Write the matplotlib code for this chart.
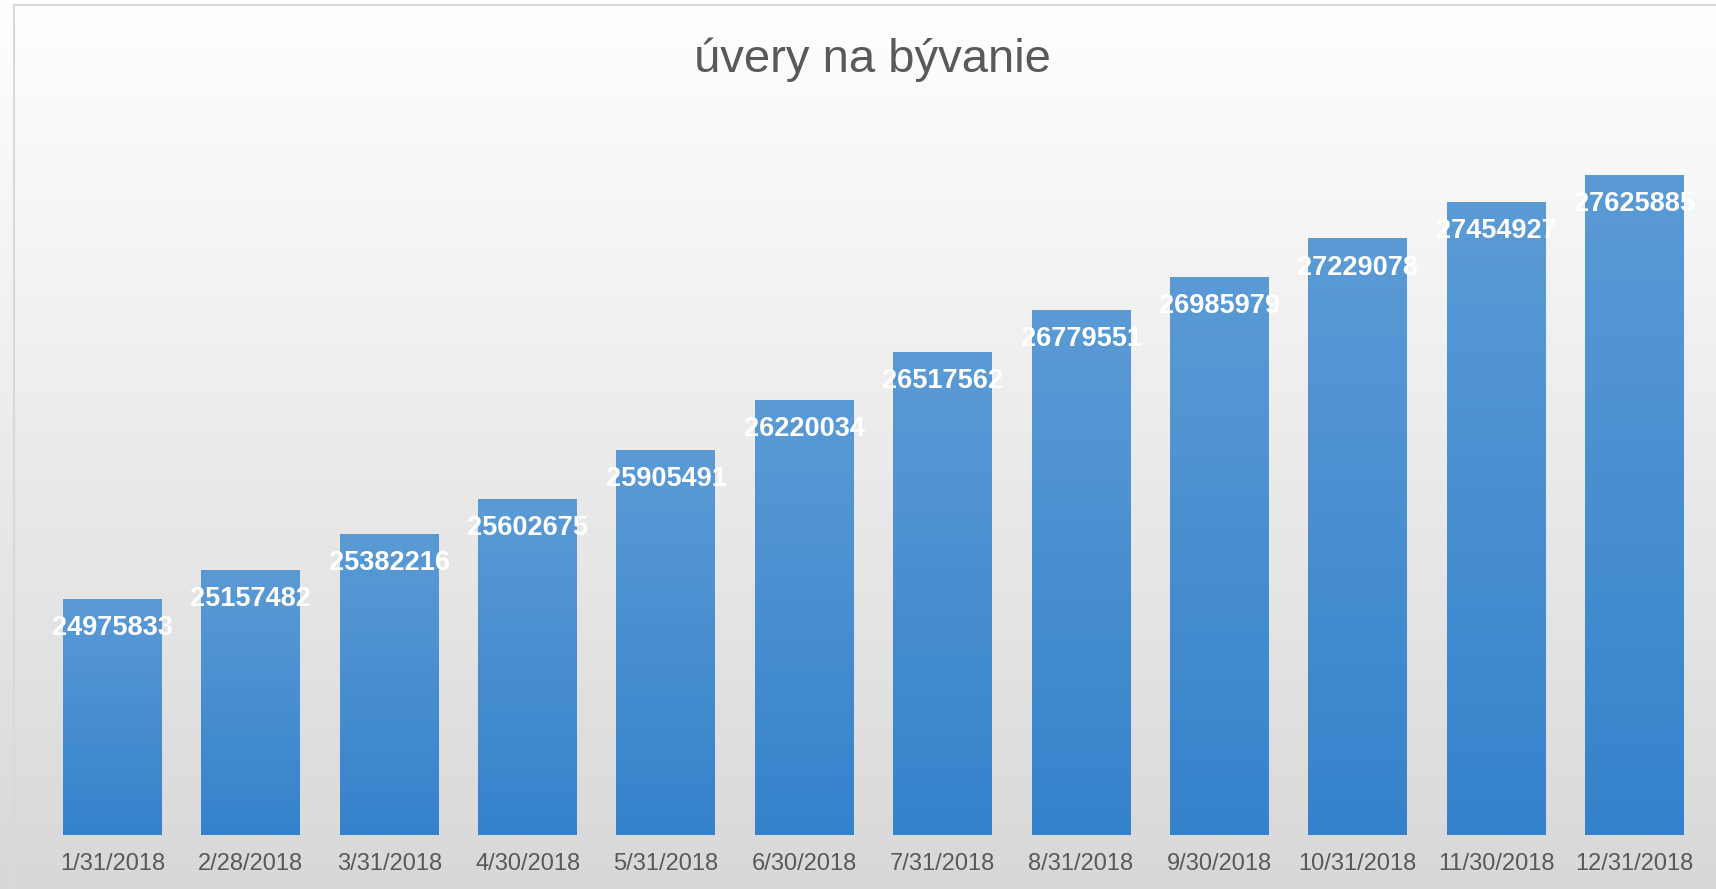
import numpy as np
import matplotlib
matplotlib.use("Agg")
import matplotlib.pyplot as plt
from matplotlib.colors import LinearSegmentedColormap
from matplotlib.patches import Rectangle

plt.rcParams['font.family'] = ['Liberation Sans', 'DejaVu Sans']

dates = ['1/31/2018', '2/28/2018', '3/31/2018', '4/30/2018', '5/31/2018', '6/30/2018',
         '7/31/2018', '8/31/2018', '9/30/2018', '10/31/2018', '11/30/2018', '12/31/2018']
values = [24975833, 25157482, 25382216, 25602675, 25905491, 26220034,
          26517562, 26779551, 26985979, 27229078, 27454927, 27625885]
title = 'úvery na bývanie'

W, H, DPI = 1716, 889, 100
fig = plt.figure(figsize=(W / DPI, H / DPI), dpi=DPI)

# background gradient of the chart area
bg = fig.add_axes([0, 0, 1, 1], zorder=0)
bg.set_axis_off()
bg_cmap = LinearSegmentedColormap.from_list('bg', ['#ffffff', '#d8d8d8'])
bg.imshow(np.linspace(0, 1, 256).reshape(-1, 1), aspect='auto', cmap=bg_cmap,
          extent=(0, 1, 0, 1), origin='upper')
bg.set_xlim(0, 1)
bg.set_ylim(0, 1)
bg.add_patch(Rectangle((14 / W, -0.1), 1.2, 1 - 5 / H + 0.1, fill=False,
                       edgecolor='#d9d9d9', linewidth=1.5))

ax = fig.add_axes([43.3 / W, 1 - 835 / H, (1703.7 - 43.3) / W, (835 - 115) / H], zorder=1)
ax.patch.set_alpha(0)
ymin, ymax = 23500000, 28000000
x = np.arange(len(values))
bars = ax.bar(x, values, width=0.715, color='#4a8fd2', zorder=2)
ax.set_xlim(-0.5, len(values) - 0.5)
ax.set_ylim(ymin, ymax)

bar_cmap = LinearSegmentedColormap.from_list('bar', ['#5b9bd5', '#3582cc'])
grad = np.linspace(0, 1, 256).reshape(-1, 1)
for b in bars:
    bx, bw, bh = b.get_x(), b.get_width(), b.get_height()
    im = ax.imshow(grad, aspect='auto', cmap=bar_cmap, origin='upper',
                   extent=(bx, bx + bw, ymin, bh), zorder=3)
    im.set_clip_path(b)

for xi, v in zip(x, values):
    ax.annotate(str(v), (xi, v), xytext=(0, -21), textcoords='offset points',
                ha='center', va='center', color='white', fontsize=19.5,
                fontweight='bold', zorder=4)

ax.set_xticks(x)
ax.set_xticklabels(dates, fontsize=17, color='#595959')
ax.tick_params(axis='x', length=0, pad=13)
ax.set_yticks([])
for s in ax.spines.values():
    s.set_visible(False)

fig.text(872 / W, 1 - 60 / H, title, ha='center', va='center', fontsize=34, color='#595959')

fig.savefig('out.png', dpi=DPI)
